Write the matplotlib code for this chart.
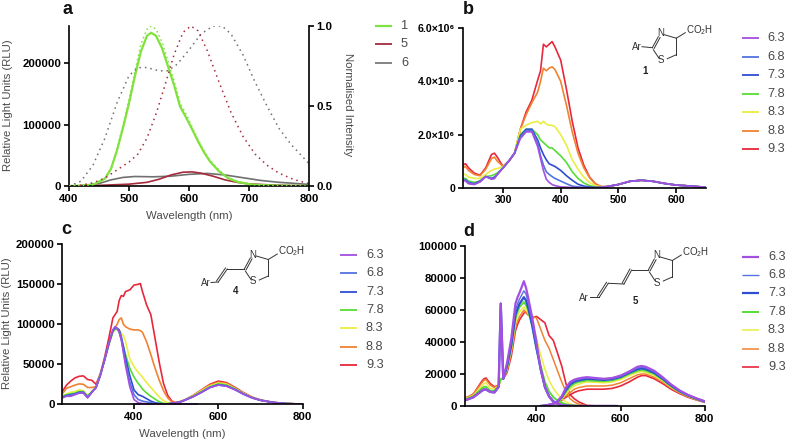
# -*- coding: utf-8 -*-
"""
luminescence spectra, four panels with the pH series and the small structures
"""
import matplotlib
matplotlib.use('Agg')
import numpy as np
import matplotlib.pyplot as plt

plt.rcParams['font.family'] = ['Liberation Sans', 'DejaVu Sans']
plt.rcParams['mathtext.default'] = 'regular'

W, H = 788, 442
GREY = '#4a4a4a'

#%% panel a values
a_wl_1 = [400, 420, 440, 460, 470, 480, 490, 500, 510, 520, 530, 537, 545, 555, 565, 575, 585, 595, 605, 615,
          625, 635, 650, 665, 680, 700, 720, 750, 800]
a_rlu_1 = [0, 500, 2000, 12000, 28000, 58000, 95000, 135000, 180000, 220000, 245000, 250000, 245000, 225000,
           195000, 165000, 130000, 112000, 93000, 73000, 55000, 40000, 24000, 13000, 7000, 3000, 1500, 500, 0]
a_norm_1 = [0, 0.002, 0.008, 0.05, 0.11, 0.23, 0.38, 0.54, 0.72, 0.89, 0.98, 1.0, 0.98, 0.9,
            0.78, 0.66, 0.52, 0.45, 0.37, 0.29, 0.22, 0.16, 0.1, 0.05, 0.03, 0.01, 0.005, 0.002, 0]
a_wl_5 = [400, 450, 500, 530, 550, 570, 590, 605, 620, 640, 660, 680, 700, 730, 760, 800]
a_rlu_5 = [0, 1000, 3000, 6000, 11000, 18000, 22500, 23000, 21000, 16000, 10000, 6000, 3500, 2000, 1000, 300]
a_wl_6 = [400, 420, 450, 470, 490, 510, 540, 570, 600, 630, 660, 690, 720, 750, 780, 800]
a_rlu_6 = [0, 500, 4000, 10000, 14000, 15500, 15000, 16000, 19000, 20500, 18000, 13500, 9000, 6000, 4000, 2500]
a_wl_5n = [400, 420, 440, 460, 480, 500, 515, 530, 545, 560, 575, 590, 603, 615, 630, 650, 670, 690, 710, 730,
           750, 775, 800]
a_norm_5 = [0, 0.005, 0.02, 0.05, 0.1, 0.15, 0.2, 0.3, 0.45, 0.63, 0.82, 0.96, 1.0, 0.97, 0.85, 0.65, 0.46, 0.31,
            0.2, 0.13, 0.08, 0.04, 0.015]
a_wl_6n = [400, 420, 440, 460, 480, 500, 515, 530, 550, 565, 580, 600, 620, 640, 655, 670, 690, 710, 730, 750,
           770, 785, 800]
a_norm_6 = [0, 0.03, 0.13, 0.3, 0.52, 0.69, 0.74, 0.74, 0.72, 0.72, 0.76, 0.85, 0.95, 1.0, 1.0, 0.95, 0.82, 0.65,
            0.5, 0.36, 0.26, 0.2, 0.14]

ph_labels = ['6.3', '6.8', '7.3', '7.8', '8.3', '8.8', '9.3']
ph_colors = ['#a24fe2', '#5573e0', '#2f4dd2', '#58dc36', '#e9ee42', '#f08232', '#e8283c']
d_widths = [1.6, 1.0, 1.6, 1.4, 1.1, 1.1, 1.2]

#%% panel b values, in 1e6 RLU
b_wl = [230, 235, 240, 250, 260, 270, 280, 285, 290, 300, 310, 320, 330, 340, 350, 360, 365, 370, 375, 380,
        385, 390, 400, 410, 420, 430, 440, 450, 460, 470, 480, 500, 520, 540, 560, 580, 600, 620, 650]
b_tail = [0.04, 0.12, 0.24, 0.28, 0.24, 0.16, 0.1, 0.07, 0.02]
b_63 = [.28, .25, .15, .12, .22, .42, .32, .35, .5, .75, 1.0, 1.3, 1.85, 2.1, 2.1, 1.55, 1.1, .65, .32, .2,
        .12, .08, .03, .02, .01, 0, 0, 0, 0, .01]
b_68 = [.3, .28, .18, .13, .22, .42, .33, .35, .5, .75, 1.0, 1.3, 1.9, 2.15, 2.15, 1.7, 1.2, .85, .6, .5,
        .42, .35, .25, .15, .06, .03, .01, 0, 0, .01]
b_73 = [.3, .3, .2, .15, .25, .42, .35, .4, .5, .75, 1.0, 1.3, 1.95, 2.2, 2.2, 1.8, 1.5, 1.25, 1.05, .9,
        .85, .8, .65, .45, .28, .13, .06, .03, .01, .01]
b_78 = [.35, .35, .25, .2, .25, .42, .45, .5, .55, .75, 1.0, 1.3, 2.0, 2.2, 2.2, 2.0, 1.8, 1.7, 1.6, 1.5,
        1.5, 1.4, 1.2, .95, .6, .35, .18, .08, .03, .01]
b_83 = [.5, .5, .4, .35, .35, .5, .65, .7, .72, .8, 1.0, 1.3, 2.2, 2.35, 2.45, 2.5, 2.4, 2.5, 2.4, 2.35,
        2.35, 2.3, 2.0, 1.6, 1.05, .7, .4, .2, .08, .03]
b_88 = [.75, .8, .65, .5, .45, .7, 1.1, 1.15, 1.0, .8, 1.0, 1.3, 2.2, 2.75, 3.2, 3.6, 4.0, 4.5, 4.4, 4.5,
        4.55, 4.45, 4.0, 3.1, 2.1, 1.3, .75, .38, .14, .04]
b_93 = [.85, .9, .75, .55, .47, .75, 1.25, 1.3, 1.15, .8, 1.0, 1.3, 2.2, 2.85, 3.3, 4.05, 4.4, 5.4, 5.3, 5.4,
        5.5, 5.3, 4.8, 3.7, 2.5, 1.5, .85, .4, .15, .04]
b_series = [b_63, b_68, b_73, b_78, b_83, b_88, b_93]

#%% panel c values
c_wl = [230, 240, 250, 260, 270, 280, 290, 300, 310, 320, 330, 340, 350, 355, 360, 365, 370, 375, 380, 390,
        400, 410, 415, 420, 430, 440, 450, 460, 470, 480, 490, 500, 510, 520, 540, 560, 580, 600, 620, 640,
        660, 680, 700, 730, 760, 800]
c_63 = [8000, 10000, 10000, 12000, 14000, 14000, 8000, 15000, 21000, 36000, 55000, 75000, 93000, 97000, 95000, 90000,
        80000, 64000, 48000, 22000, 6000, 2000, 1500, 1000, 800, 500, 300, 200, 200, 500, 1200, 2000,
        3000, 5000, 9500, 15000, 21000, 24000, 22500, 18000, 12500, 8000, 5000, 2300, 900, 300]
c_68 = [8500, 10500, 11000, 12500, 14500, 14500, 8500, 15000, 21000, 36000, 55000, 75000, 93000, 96000, 95000, 91000,
        82000, 67000, 52000, 28000, 12000, 6000, 5000, 4000, 3000, 2000, 1000, 500, 300, 500, 1200, 2000,
        3000, 5000, 9500, 15000, 21000, 24200, 22700, 18200, 12600, 8000, 5000, 2300, 900, 300]
c_73 = [9000, 11000, 12000, 13000, 15000, 15000, 9000, 15000, 21000, 36000, 55000, 75000, 92000, 95000, 95000, 93000,
        84000, 72000, 58000, 36000, 18000, 12000, 11000, 10000, 7000, 4000, 2000, 1000, 500, 500, 1200, 2000,
        3000, 5000, 9500, 15000, 21000, 24500, 23000, 18500, 12800, 8200, 5000, 2300, 900, 300]
c_78 = [10000, 12000, 13000, 14000, 16000, 16000, 10000, 16000, 21000, 37000, 55000, 74000, 91000, 94000, 94000, 90000,
        81000, 72000, 62000, 45000, 34000, 26000, 23000, 19000, 14000, 10000, 6500, 3000, 1200, 600, 1200, 2000,
        3200, 5200, 10000, 16000, 22000, 25500, 24000, 19000, 13200, 8400, 5100, 2300, 900, 300]
c_83 = [10000, 13000, 15000, 16000, 18000, 17000, 11000, 16000, 21000, 37000, 55000, 74000, 90000, 93000, 94000, 93000,
        89000, 86000, 78000, 57000, 47000, 40000, 37000, 34000, 27000, 21000, 15000, 9000, 4500, 2000, 1200, 2000,
        3300, 5300, 10500, 17000, 23000, 26500, 25000, 19500, 13600, 8600, 5200, 2400, 1000, 300]
c_88 = [13000, 20000, 22000, 24000, 25500, 25000, 21000, 21000, 22000, 37000, 55000, 76000, 92000, 96000, 100000, 106000,
        108000, 100000, 97000, 94000, 93000, 93000, 92000, 90000, 78000, 62000, 45000, 30000, 17000, 8000, 3000, 2200,
        3500, 5500, 11000, 17500, 24000, 27500, 26000, 20000, 14000, 8700, 5300, 2400, 1000, 300]
c_93 = [16000, 24000, 29000, 33000, 35000, 35500, 31000, 30000, 25000, 38000, 58000, 82000, 108000, 112000, 116000, 130000,
        136000, 135000, 141000, 143000, 149000, 150000, 151000, 141000, 124000, 112000, 82000, 52000, 26000, 11000, 4000, 1800,
        3500, 5500, 11000, 18000, 25000, 29000, 27000, 21000, 14500, 9000, 5500, 2500, 1000, 300]
c_series = [c_63, c_68, c_73, c_78, c_83, c_88, c_93]
# excitation trace lying on the baseline
c_wl_base = [400, 550]
c_base = [0, 0]

#%% panel d values, excitation part and emission part
d_wl_ex = [230, 240, 250, 260, 270, 275, 280, 290, 300, 310, 315, 321, 330, 340, 350, 355, 360, 370, 375, 380,
           390, 400, 410, 420, 430, 440, 450, 460, 470, 480, 490, 500, 520, 550, 590]
d_ex_63 = [3500, 4500, 5500, 7500, 9500, 10300, 10300, 8800, 8500, 12000, 64000, 17000, 27000, 42000, 64000, 68000,
           71000, 78000, 74000, 68000, 55000, 40000, 23000, 12000, 6000, 2500, 1200, 600, 200, 100, 50, 0, 0, 0, 0]
d_ex_68 = [3500, 4500, 5500, 7500, 9500, 10300, 10300, 8800, 8500, 12000, 64000, 17000, 26000, 40000, 60000, 64000,
           67000, 72000, 70000, 65000, 52000, 37000, 22000, 11000, 5500, 2500, 1200, 600, 200, 100, 50, 0, 0, 0, 0]
d_ex_73 = [3500, 4500, 5500, 7500, 9500, 10300, 10300, 8800, 8500, 12000, 64000, 17000, 25000, 38000, 57000, 61000,
           64000, 68000, 66000, 62000, 50000, 36000, 23000, 12000, 6000, 3000, 1500, 700, 300, 100, 50, 0, 0, 0, 0]
d_ex_78 = [4000, 5000, 6000, 8500, 11000, 12000, 12000, 9500, 9500, 12500, 17000, 17000, 24000, 37000, 55000, 59000,
           62000, 65000, 63000, 60000, 50000, 36000, 25000, 15000, 9000, 5500, 3500, 2000, 1000, 500, 200, 100, 0, 0, 0]
d_ex_83 = [4500, 5500, 6500, 9500, 12500, 14000, 14500, 11000, 10500, 13000, 17000, 17000, 23000, 35000, 52000, 56000,
           59000, 62000, 60000, 58000, 52000, 42000, 32000, 23000, 16000, 11000, 7500, 4500, 2500, 1300, 600, 200, 0, 0, 0]
d_ex_88 = [5000, 6000, 7500, 11000, 14500, 16000, 16500, 13000, 11500, 13000, 17000, 17000, 22000, 33000, 49000, 53000,
           56000, 60000, 58000, 57000, 56000, 55000, 48000, 41000, 36000, 29000, 22000, 15000, 9000, 4500, 2500, 1200, 200, 0, 0]
d_ex_93 = [5000, 6000, 7500, 11500, 15500, 17000, 17500, 14000, 12000, 13000, 17000, 17000, 21000, 31000, 47000, 51000,
           54000, 58000, 59000, 57000, 55000, 56000, 54000, 52000, 44000, 41000, 33000, 25000, 14000, 7000, 4500, 2700, 300, 0, 0]
d_ex_series = [d_ex_63, d_ex_68, d_ex_73, d_ex_78, d_ex_83, d_ex_88, d_ex_93]

d_wl_em = [410, 420, 430, 440, 450, 460, 470, 480, 490, 500, 510, 520, 540, 560, 580, 600, 620, 640, 650, 660,
           680, 700, 720, 740, 760, 780, 800]
d_em_63 = [0, 300, 800, 1500, 3000, 6000, 11500, 15000, 16500, 17200, 17700, 18000, 17500, 17000, 17500, 19000, 21500,
           24500, 25000, 24500, 22000, 18000, 13500, 9800, 7000, 4800, 3000]
d_em_68 = [0, 300, 800, 1500, 2900, 5700, 11000, 14500, 16000, 16700, 17200, 17500, 17200, 16700, 17200, 18600, 21000,
           23700, 24300, 23800, 21400, 17500, 13200, 9500, 6800, 4700, 2900]
d_em_73 = [0, 300, 750, 1450, 2800, 5400, 10000, 13500, 15200, 16000, 16500, 17000, 16700, 16300, 16800, 18200, 20700,
           23000, 23500, 23000, 20800, 17000, 12800, 9300, 6700, 4600, 2800]
d_em_78 = [0, 250, 700, 1400, 2700, 5000, 9000, 12000, 14000, 15000, 15500, 16000, 15700, 15500, 16000, 17500, 20000,
           22000, 22500, 22000, 20000, 16500, 12300, 9000, 6400, 4400, 2700]
d_em_83 = [0, 250, 650, 1300, 2600, 4500, 7500, 10500, 12500, 13500, 14500, 15000, 14800, 14500, 15000, 16500, 19000,
           21000, 21500, 21000, 19000, 15800, 11800, 8700, 6200, 4200, 2600]
d_em_88 = [0, 200, 600, 1200, 2300, 4000, 6500, 8500, 10500, 11500, 12000, 12500, 12500, 12500, 13000, 14500, 17000,
           19500, 20000, 20000, 18000, 15000, 11300, 8300, 5900, 4000, 2500]
d_em_93 = [0, 200, 500, 1000, 2000, 3500, 5500, 7000, 8500, 9500, 10000, 10500, 10500, 10500, 11000, 12500, 15000,
           18000, 19000, 19000, 17000, 14000, 10500, 7800, 5500, 3800, 2300]
d_em_series = [d_em_63, d_em_68, d_em_73, d_em_78, d_em_83, d_em_88, d_em_93]


def make_axes(fig, left, right, top, bottom):
    ax = fig.add_axes([left / W, 1 - bottom / H, (right - left) / W, (bottom - top) / H])
    ax.patch.set_alpha(0)
    for side in ['top', 'right']:
        ax.spines[side].set_visible(False)
    for side in ['left', 'bottom']:
        ax.spines[side].set_linewidth(1.2)
    ax.tick_params(length=3.5, width=1.2, labelsize=8.2, pad=2)
    return ax


def bold_ticks(ax, size=8.2):
    for lab in ax.get_xticklabels() + ax.get_yticklabels():
        lab.set_fontweight('bold')
        lab.set_fontsize(size)


def ph_legend(px, x0, ys, widths=None):
    if widths is None:
        widths = [1.3] * len(ph_labels)
    for lab, col, y, lw in zip(ph_labels, ph_colors, ys, widths):
        px.plot([x0, x0 + 17], [y, y], color=col, lw=lw, solid_capstyle='butt')
        px.text(x0 + 26, y, lab, color=GREY, fontsize=9.2, va='center', ha='left')


def bond(px, p, q, dbl=None):
    px.plot([p[0], q[0]], [p[1], q[1]], color='#333333', lw=0.7)
    if dbl is not None:
        px.plot([p[0] + dbl[0], q[0] + dbl[0]], [p[1] + dbl[1], q[1] + dbl[1]], color='#333333', lw=0.7)


def ring(px, cx, cy, number_pos, number):
    # thiazoline ring and acid group, everything relative to C2
    c4 = (cx + 24, cy - 9.5)
    c5 = (cx + 24, cy + 7)
    bond(px, (cx, cy), (cx + 6, cy - 11), dbl=(1.8, 0.8))
    bond(px, (cx + 12, cy - 13), c4)
    bond(px, c4, c5)
    bond(px, c5, (cx + 15, cy + 11))
    bond(px, (cx + 7, cy + 11), (cx + 1, cy + 2))
    bond(px, c4, (cx + 33, cy - 15))
    for lab, dx, dy, ha in [('N', 8, -14.5, 'center'), ('S', 9, 12.5, 'center'), ('CO$_2$H', 34, -18, 'left')]:
        px.text(cx + dx, cy + dy, lab, fontsize=7, color='#333333', ha=ha, va='center')
    px.text(number_pos[0], number_pos[1], number, fontsize=7, fontweight='bold', color='#222222',
            ha='center', va='center')


fig = plt.figure(figsize=(W / 100, H / 100), dpi=100)

# overlay in pixel coordinates for legends, letters and structures
px = fig.add_axes([0, 0, 1, 1], zorder=5)
px.set_xlim(0, W)
px.set_ylim(H, 0)
px.axis('off')
px.patch.set_alpha(0)

#%% panel a
ax_a = make_axes(fig, 69, 309, 26, 186)
green, red, grey = '#80e23c', '#a52a3c', '#707070'
ax_a.plot(a_wl_6, a_rlu_6, color=grey, lw=1.2)
ax_a.plot(a_wl_5, a_rlu_5, color=red, lw=1.2)
ax_a.plot(a_wl_1, a_rlu_1, color=green, lw=1.6)
ax_a.set_xlim(400, 800)
ax_a.set_ylim(0, 261000)
ax_a.set_xticks([400, 500, 600, 700, 800])
ax_a.set_yticks([0, 100000, 200000])
bold_ticks(ax_a)
ax_a.set_xlabel('Wavelength (nm)', fontsize=8.2, color=GREY, va='center')
ax_a.xaxis.set_label_coords(189, 216, transform=px.transData)
ax_a.set_ylabel('Relative Light Units (RLU)', fontsize=8.2, color=GREY, va='center')
ax_a.yaxis.set_label_coords(8, 105, transform=px.transData)

ax_r = ax_a.twinx()
ax_r.patch.set_alpha(0)
ax_r.spines['top'].set_visible(False)
ax_r.spines['right'].set_linewidth(1.2)
ax_r.spines['left'].set_visible(False)
ax_r.spines['bottom'].set_visible(False)
ax_r.plot(a_wl_6n, a_norm_6, color=grey, lw=1.1, ls=(0, (1, 2.6)))
ax_r.plot(a_wl_5n, a_norm_5, color=red, lw=1.1, ls=(0, (1, 2.6)))
ax_r.plot(a_wl_1, a_norm_1, color=green, lw=1.1, ls=(0, (1, 2)))
ax_r.set_ylim(0, 1)
ax_r.set_yticks([0, 0.5, 1.0])
ax_r.set_yticklabels(['0.0', '0.5', '1.0'])
ax_r.tick_params(length=3.5, width=1.2, pad=2)
bold_ticks(ax_r)
ax_r.set_ylabel('Normalised Intensity', fontsize=8.2, color=GREY, rotation=270, va='center')
ax_r.yaxis.set_label_coords(348, 105, transform=px.transData)

for lab, col, y, lw in [('1', green, 26, 1.6), ('5', red, 44, 1.3), ('6', grey, 63, 1.2)]:
    px.plot([375, 392], [y, y], color=col, lw=lw, solid_capstyle='butt')
    px.text(401, y, lab, color=GREY, fontsize=9.2, va='center', ha='left')

#%% panel b
ax_b = make_axes(fig, 462.7, 706, 28.3, 187.7)
for vals, col in list(zip(b_series, ph_colors))[::-1]:
    ax_b.plot(b_wl, np.array(vals + b_tail) * 1e6, color=col, lw=1.2)
ax_b.set_xlim(230, 652)
ax_b.set_ylim(0, 6e6)
ax_b.set_xticks([300, 400, 500, 600])
ax_b.set_yticks([0, 2e6, 4e6, 6e6])
ax_b.set_yticklabels(['0', '2.0×10⁶', '4.0×10⁶', '6.0×10⁶'])
bold_ticks(ax_b, 7.6)
ph_legend(px, 741.7, [38, 57, 75, 94, 112, 131, 149])

#%% panel c
ax_c = make_axes(fig, 62.3, 302.7, 244.3, 404.3)
for vals, col in list(zip(c_series, ph_colors))[::-1]:
    ax_c.plot(c_wl, vals, color=col, lw=1.2)
ax_c.plot(c_wl_base, c_base, color=ph_colors[0], lw=1.2, clip_on=False)
ax_c.set_xlim(230, 800)
ax_c.set_ylim(0, 200000)
ax_c.set_xticks([400, 600, 800])
ax_c.set_yticks([0, 50000, 100000, 150000, 200000])
bold_ticks(ax_c)
ax_c.set_xlabel('Wavelength (nm)', fontsize=8.2, color=GREY, va='center')
ax_c.xaxis.set_label_coords(182, 434, transform=px.transData)
ax_c.set_ylabel('Relative Light Units (RLU)', fontsize=8.2, color=GREY, va='center')
ax_c.yaxis.set_label_coords(7, 323, transform=px.transData)
ph_legend(px, 340, [255, 273, 292, 310, 328, 347, 365])

#%% panel d
ax_d = make_axes(fig, 465, 704.7, 246, 406)
for ex, em, col, lw in list(zip(d_ex_series, d_em_series, ph_colors, d_widths))[::-1]:
    ax_d.plot(d_wl_ex, ex, color=col, lw=lw)
    ax_d.plot(d_wl_em, em, color=col, lw=lw)
ax_d.set_xlim(230, 800)
ax_d.set_ylim(0, 100000)
ax_d.set_xticks([400, 600, 800])
ax_d.set_yticks([0, 20000, 40000, 60000, 80000, 100000])
bold_ticks(ax_d)
ph_legend(px, 742, [257, 275, 293, 312, 330, 349, 367], d_widths)

#%% panel letters
for lab, x, y in [('a', 68, 10), ('b', 468, 10), ('c', 66, 229), ('d', 469, 231)]:
    px.text(x, y, lab, fontsize=13, fontweight='bold', color='#111111', ha='center', va='center')

#%% structures
# 1
ring(px, 652.3, 47.7, (645, 70.5), '1')
bond(px, (642, 46.7), (652.3, 47.7))
px.text(636.5, 46.5, 'Ar', fontsize=7, color='#333333', ha='center', va='center')
# 4
ring(px, 244.3, 269, (236, 291.5), '4')
bond(px, (244.3, 269), (227.3, 269))
bond(px, (227.3, 269), (218.3, 282), dbl=(-1.8, -1))
bond(px, (218.3, 282), (211, 282.5))
px.text(205.5, 282.5, 'Ar', fontsize=7, color='#333333', ha='center', va='center')
# 5
ring(px, 648.3, 270, (635.5, 301), '5')
bond(px, (648.3, 270), (631.7, 270))
bond(px, (631.7, 270), (624, 284), dbl=(-1.8, -1))
bond(px, (624, 284), (608.3, 283.3))
bond(px, (608.3, 283.3), (599.3, 297.3), dbl=(-1.8, -1))
bond(px, (599.3, 297.3), (590, 297.3))
px.text(584, 297.7, 'Ar', fontsize=7, color='#333333', ha='center', va='center')

fig.savefig('out.png', dpi=100)
